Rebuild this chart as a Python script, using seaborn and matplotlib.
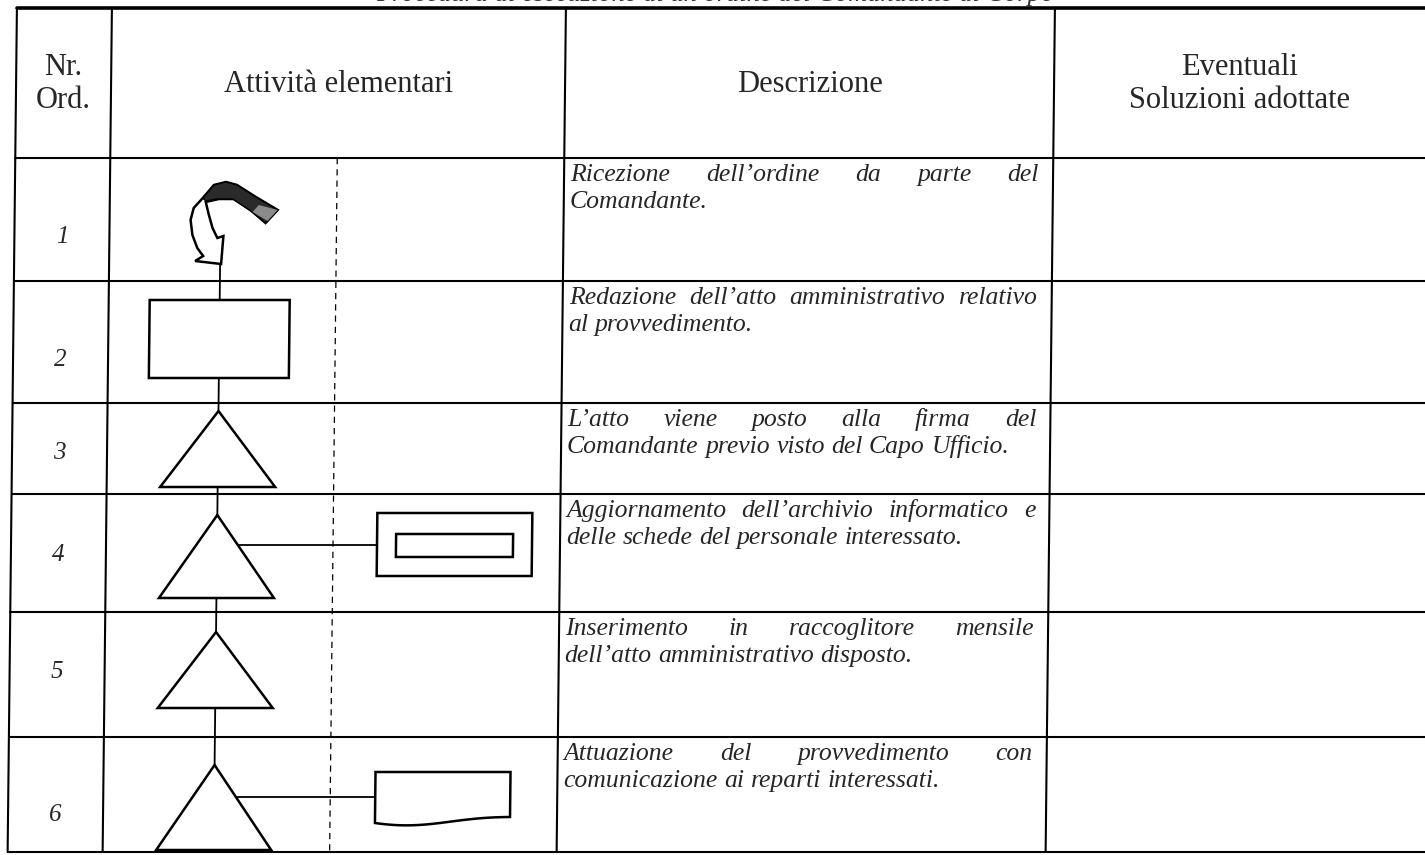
import numpy as np
import matplotlib
matplotlib.use("Agg")
import matplotlib.pyplot as plt
import matplotlib.transforms as mtransforms
from matplotlib.patches import Polygon, Rectangle
import seaborn as sns

# table content
title_text = "Procedura di esecuzione di un ordine del Comandante di Corpo"
header_labels = ["Nr.\nOrd.", "Attività elementari", "Descrizione", "Eventuali\nSoluzioni adottate"]
row_numbers = ["1", "2", "3", "4", "5", "6"]
symbols = ["arrow", "box", "triangle", "triangle", "triangle", "triangle"]
side_symbols = [None, None, None, "archive", None, "document"]
descriptions = [
    ["Ricezione dell’ordine da parte del", "Comandante."],
    ["Redazione dell’atto amministrativo relativo", "al provvedimento."],
    ["L’atto viene posto alla firma del", "Comandante previo visto del Capo Ufficio."],
    ["Aggiornamento dell’archivio informatico e", "delle schede del personale interessato."],
    ["Inserimento in raccoglitore mensile", "dell’atto amministrativo disposto."],
    ["Attuazione del provvedimento con", "comunicazione ai reparti interessati."],
]

# layout in pixels (x measured at the top of the page, the scan leans a bit)
W, H = 1425, 855
row_edges = [8, 158, 281, 403, 494, 612, 737, 852]
col_edges = [17, 112, 566, 1055]
flow_x = 223
dash_x = 339
lean = 0.011
number_pos = [0.64, 0.65, 0.55, 0.52, 0.48, 0.68]

sns.set_theme(style="white")
plt.rcParams['font.family'] = ['Liberation Serif', 'DejaVu Serif']

fig = plt.figure(figsize=(W / 100, H / 100), dpi=100)
ax = fig.add_axes([0, 0, 1, 1])
ax.set_xlim(0, W)
ax.set_ylim(H, 0)
ax.axis('off')
tr = mtransforms.Affine2D(np.array([[1, -lean, 0], [0, 1, 0], [0, 0, 1]])) + ax.transData
renderer = fig.canvas.get_renderer()

lw_grid = 1.5
lw_shape = 1.8

# grid
for i, y in enumerate(row_edges):
    ax.plot([col_edges[0], W + 40], [y, y], color='black', lw=2.6 if i == 0 else lw_grid, transform=tr)
for x in col_edges:
    ax.plot([x, x], [row_edges[0], row_edges[-1]], color='black', lw=lw_grid, transform=tr)
ax.plot([dash_x, dash_x], [row_edges[1], row_edges[-1]], color='black', lw=0.9,
        dashes=(5, 4), transform=tr)

# title cut by the top of the scan
ax.text(715, 1, title_text, ha='center', va='baseline', fontsize=19, style='italic',
        transform=tr, color='#333333')

# header
hy = (row_edges[0] + row_edges[1]) / 2 + 1
hx = [(col_edges[0] + col_edges[1]) / 2, (col_edges[1] + col_edges[2]) / 2,
      (col_edges[2] + col_edges[3]) / 2, 1240]
for x, lab in zip(hx, header_labels):
    ax.text(x, hy, lab, ha='center', va='center', fontsize=22, linespacing=1.2, transform=tr)

# row numbers
for i, num in enumerate(row_numbers):
    y = row_edges[i + 1] + number_pos[i] * (row_edges[i + 2] - row_edges[i + 1])
    ax.text(hx[0], y, num, ha='center', va='center', fontsize=18, style='italic', transform=tr)

# descriptions, justified like the original
x_left = col_edges[2] + 6
x_right = col_edges[3] - 14
for i, lines in enumerate(descriptions):
    top = row_edges[i + 1]
    for j, line in enumerate(lines):
        y = top + 23 + j * 27
        words = line.split()
        texts = [ax.text(0, y, w, fontsize=18.5, style='italic', va='baseline', transform=tr) for w in words]
        widths = [t.get_window_extent(renderer).width for t in texts]
        if j < len(lines) - 1 and len(words) > 1:
            gap = (x_right - x_left - sum(widths)) / (len(words) - 1)
        else:
            gap = ax.text(0, 0, " ", fontsize=18.5, style='italic').get_window_extent(renderer).width
        x = x_left
        for t, w in zip(texts, widths):
            t.set_x(x)
            x += w + gap

# flow line
ax.plot([flow_x, flow_x], [262, 850], color='black', lw=1.3, transform=tr, zorder=1)

tri_spans = {2: (411, 487), 3: (515, 598), 4: (632, 708), 5: (765, 850)}
for i, sym in enumerate(symbols):
    if sym == "arrow":
        outline = [(277, 210), (255, 197), (236, 185), (225, 182), (213, 185), (202, 198),
                   (193, 208), (190, 220), (192, 235), (197, 248), (203, 256), (195, 261),
                   (221, 264), (223, 236), (217, 238), (212, 228), (208, 214), (205, 202),
                   (218, 199), (233, 199), (250, 210), (265, 223)]
        band = [(205, 201), (202, 198), (213, 185), (225, 182), (236, 185), (255, 197),
                (277, 210), (265, 223), (250, 211), (232, 199), (215, 199)]
        sh = flow_x - 220
        ax.add_patch(Polygon([(x + sh, y) for x, y in outline], closed=True, fc='white',
                             ec='black', lw=lw_shape, transform=tr, zorder=3))
        ax.add_patch(Polygon([(x + sh, y) for x, y in band], closed=True, fc='#2a2a2a',
                             ec='black', lw=1.0, transform=tr, zorder=4))
        ax.add_patch(Polygon([(258 + sh, 205), (277 + sh, 210), (267 + sh, 221), (252 + sh, 212)],
                             closed=True, fc='#8a8a8a', ec='none', transform=tr, zorder=5))
    elif sym == "box":
        ax.add_patch(Rectangle((flow_x - 70, 300), 140, 78, fc='white', ec='black',
                               lw=lw_shape, transform=tr, zorder=3))
    elif sym == "triangle":
        a, b = tri_spans[i]
        ax.add_patch(Polygon([(flow_x, a), (flow_x - 57.5, b), (flow_x + 57.5, b)], closed=True,
                             fc='white', ec='black', lw=lw_shape, transform=tr, zorder=3))

    side = side_symbols[i]
    if side == "archive":
        a, b = tri_spans[i]
        yc = 545
        xe = flow_x + 57.5 * (yc - a) / (b - a)
        ax.plot([xe, 383], [yc, yc], color='black', lw=1.3, transform=tr)
        ax.add_patch(Rectangle((383, 513), 155, 63, fc='white', ec='black', lw=lw_shape, transform=tr))
        ax.add_patch(Rectangle((402, 534), 117, 23, fc='white', ec='black', lw=lw_shape, transform=tr))
    elif side == "document":
        a, b = tri_spans[i]
        yc = 797
        xe = flow_x + 57.5 * (yc - a) / (b - a)
        ax.plot([xe, 384], [yc, yc], color='black', lw=1.3, transform=tr)
        t = np.linspace(0, 1, 40)
        wave_x = 384 + 135 * t
        wave_y = 823 - 6 * t + 6 * np.sin(np.pi * t * 1.3) * (1 - t)
        doc = [(384, 772), (519, 772), (519, 817)] + list(zip(wave_x[::-1], wave_y[::-1]))
        ax.add_patch(Polygon(doc, closed=True, fc='white', ec='black', lw=lw_shape, transform=tr))

fig.savefig("out.png", dpi=100, facecolor='white')
